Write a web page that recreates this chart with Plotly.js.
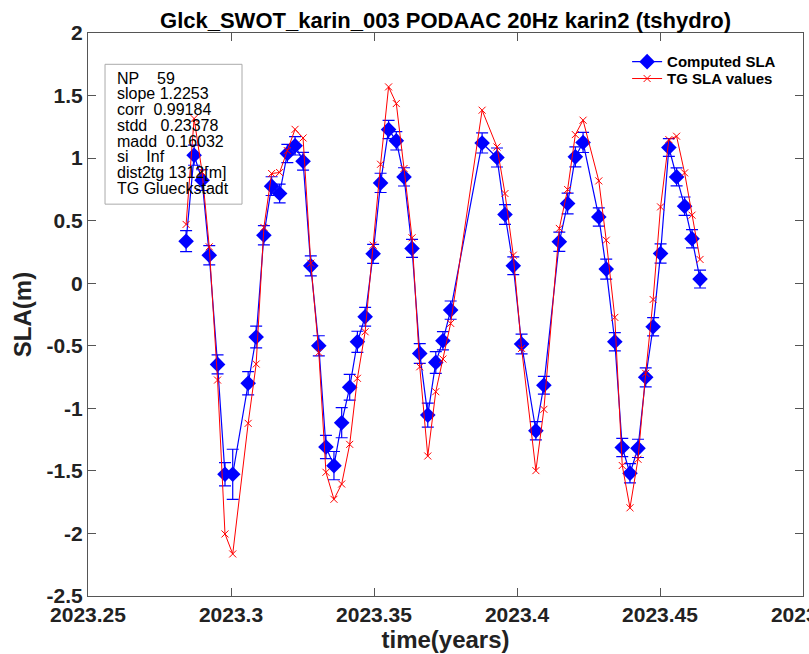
<!DOCTYPE html>
<html>
<head>
<meta charset="utf-8">
<script src="https://cdn.plot.ly/plotly-3.0.1.min.js"></script>
<style>
  html, body { margin: 0; padding: 0; background: #fff; overflow: hidden; }
  #chart { width: 809px; height: 654px; }
</style>
</head>
<body>
<div id="chart"></div>
<script>
// Sample times (decimal years)
const timeYears = [
  2023.2843, 2023.2871, 2023.2899, 2023.2924, 2023.2953, 2023.2979, 2023.3006, 2023.3060,
  2023.3088, 2023.3115, 2023.3142, 2023.3170, 2023.3197, 2023.3224, 2023.3252, 2023.3279,
  2023.3307, 2023.3332, 2023.3360, 2023.3387, 2023.3415, 2023.3442, 2023.3469, 2023.3497,
  2023.3523, 2023.3551, 2023.3578, 2023.3605, 2023.3633, 2023.3660, 2023.3688, 2023.3716,
  2023.3741, 2023.3768, 2023.3878, 2023.3930, 2023.3958, 2023.3987, 2023.4016, 2023.4066,
  2023.4094, 2023.4148, 2023.4177, 2023.4204, 2023.4231, 2023.4286, 2023.4312, 2023.4342,
  2023.4368, 2023.4395, 2023.4423, 2023.4450, 2023.4476, 2023.4502, 2023.4531, 2023.4558,
  2023.4586, 2023.4612, 2023.4640
];

// Computed SLA (m) from KaRIn
const computedSla = [
  0.336, 1.023, 0.824, 0.224, -0.649, -1.527, -1.527, -0.800,
  -0.430, 0.384, 0.776, 0.717, 1.037, 1.098, 0.975, 0.139,
  -0.500, -1.309, -1.458, -1.115, -0.832, -0.468, -0.268, 0.235,
  0.802, 1.228, 1.138, 0.850, 0.278, -0.561, -1.054, -0.633,
  -0.460, -0.215, 1.121, 1.005, 0.549, 0.139, -0.486, -1.179,
  -0.816, 0.331, 0.637, 1.010, 1.125, 0.530, 0.113, -0.468,
  -1.313, -1.519, -1.320, -0.752, -0.348, 0.238, 1.085, 0.850,
  0.616, 0.355, 0.033
];

// Error bar half-lengths (m)
const computedErr = [
  0.084, 0.080, 0.083, 0.077, 0.076, 0.093, 0.200, 0.093,
  0.087, 0.077, 0.075, 0.075, 0.073, 0.073, 0.071, 0.080,
  0.080, 0.093, 0.113, 0.120, 0.103, 0.084, 0.075, 0.076,
  0.077, 0.073, 0.073, 0.073, 0.072, 0.079, 0.096, 0.087,
  0.073, 0.073, 0.080, 0.076, 0.079, 0.071, 0.079, 0.073,
  0.071, 0.077, 0.083, 0.080, 0.080, 0.073, 0.080, 0.073,
  0.073, 0.077, 0.073, 0.076, 0.073, 0.077, 0.071, 0.072,
  0.073, 0.073, 0.071
];

// Tide gauge SLA (m) at the same times
const tgSla = [
  0.470, 1.316, 0.887, 0.291, -0.774, -2.004, -2.164, -1.120,
  -0.646, 0.446, 0.877, 0.885, 1.060, 1.230, 1.161, 0.160,
  -0.553, -1.511, -1.727, -1.605, -1.288, -0.760, -0.388, 0.304,
  0.951, 1.569, 1.436, 0.917, 0.363, -0.668, -1.381, -0.867,
  -0.606, -0.321, 1.383, 1.089, 0.717, 0.224, -0.521, -1.498,
  -1.008, 0.438, 0.749, 1.188, 1.303, 0.818, 0.344, -0.273,
  -1.457, -1.795, -1.407, -0.720, -0.130, 0.610, 1.148, 1.175,
  0.882, 0.544, 0.190
];

const xTickVals = [2023.25, 2023.3, 2023.35, 2023.4, 2023.45, 2023.5];
const xTickText = ['2023.25', '2023.3', '2023.35', '2023.4', '2023.45', '2023.5'];
const yTickVals = [-2.5, -2, -1.5, -1, -0.5, 0, 0.5, 1, 1.5, 2];
const yTickText = ['-2.5', '-2', '-1.5', '-1', '-0.5', '0', '0.5', '1', '1.5', '2'];

// Statistics box lines
const statsLines = [
  'NP\u00a0\u00a0\u00a0\u00a059',
  'slope 1.2253',
  'corr\u00a0\u00a00.99184',
  'stdd\u00a0\u00a0\u00a00.23378',
  'madd\u00a0\u00a00.16032',
  'si\u00a0\u00a0\u00a0\u00a0Inf',
  'dist2tg 1312[m]',
  'TG Glueckstadt'
];

const FONT = 'Liberation Sans, Arial, Helvetica, sans-serif';

const traces = [
  {
    x: timeYears, y: computedSla, name: 'Computed SLA', legend: 'legend',
    type: 'scatter', mode: 'lines+markers',
    line: { color: '#0000ff', width: 1.2 },
    marker: { symbol: 'diamond', size: 12, color: '#0000ff' },
    error_y: { type: 'data', array: computedErr, visible: true, color: '#0000ff', thickness: 1.2, width: 6 }
  },
  {
    x: timeYears, y: tgSla, name: 'TG SLA values', legend: 'legend2',
    type: 'scatter', mode: 'lines+markers',
    line: { color: '#ff0000', width: 1 },
    marker: { symbol: 'x-thin-open', size: 7, color: '#ff0000', line: { color: '#ff0000', width: 1 } }
  }
];

// Stats box placement in paper units
const boxLeft = 0.0238, boxRight = 0.2154, boxBottom = 0.696, boxTop = 0.9444;
const textLeft = 0.0375, firstLineY = 0.9196, lineStep = 0.0279;

const annotations = statsLines.map((t, i) => ({
  xref: 'paper', yref: 'paper',
  x: textLeft, y: firstLineY - i * lineStep,
  xanchor: 'left', yanchor: 'middle',
  text: t, showarrow: false,
  font: { family: FONT, size: 16, color: '#000' }
}));

const legendStyle = {
  xanchor: 'left', yanchor: 'top',
  bgcolor: 'rgba(255,255,255,0)', borderwidth: 0,
  font: { family: FONT, size: 15, color: '#000', weight: 'bold' }
};

const layout = {
  width: 809, height: 654,
  margin: { l: 88, r: 6, t: 33, b: 58 },
  paper_bgcolor: '#fff', plot_bgcolor: '#fff',
  title: {
    text: 'Glck_SWOT_karin_003 PODAAC 20Hz karin2 (tshydro)',
    font: { family: FONT, size: 22, color: '#000', weight: 'bold' },
    x: 0.5, xref: 'paper', xanchor: 'center',
    y: 1, yref: 'paper', yanchor: 'bottom', pad: { b: 5 }
  },
  xaxis: {
    range: [2023.25, 2023.5], tickvals: xTickVals, ticktext: xTickText,
    ticklabeloverflow: 'allow',
    ticks: 'inside', ticklen: 8, tickcolor: '#555', tickwidth: 1,
    showline: true, linecolor: '#555', linewidth: 1, mirror: 'ticks',
    showgrid: false, zeroline: false,
    tickfont: { family: FONT, size: 21, color: '#222', weight: 'bold' },
    title: { text: 'time(years)', font: { family: FONT, size: 24, color: '#222', weight: 'bold' }, standoff: 0 }
  },
  yaxis: {
    range: [-2.5, 2], tickvals: yTickVals, ticktext: yTickText,
    ticks: 'inside', ticklen: 8, tickcolor: '#555', tickwidth: 1,
    showline: true, linecolor: '#555', linewidth: 1, mirror: 'ticks',
    showgrid: false, zeroline: false,
    tickfont: { family: FONT, size: 21, color: '#222', weight: 'bold' },
    title: { text: 'SLA(m)', font: { family: FONT, size: 24, color: '#222', weight: 'bold' }, standoff: 8 }
  },
  showlegend: true,
  legend: Object.assign({ x: 0.754, y: 0.978 }, legendStyle),
  legend2: Object.assign({ x: 0.754, y: 0.948 }, legendStyle),
  shapes: [{
    type: 'rect', xref: 'paper', yref: 'paper',
    x0: boxLeft, x1: boxRight, y0: boxBottom, y1: boxTop,
    line: { color: '#aaaaaa', width: 1 }, fillcolor: 'rgba(255,255,255,0)', layer: 'below'
  }],
  annotations: annotations
};

Plotly.newPlot('chart', traces, layout, { displayModeBar: false, staticPlot: true });
</script>
</body>
</html>
